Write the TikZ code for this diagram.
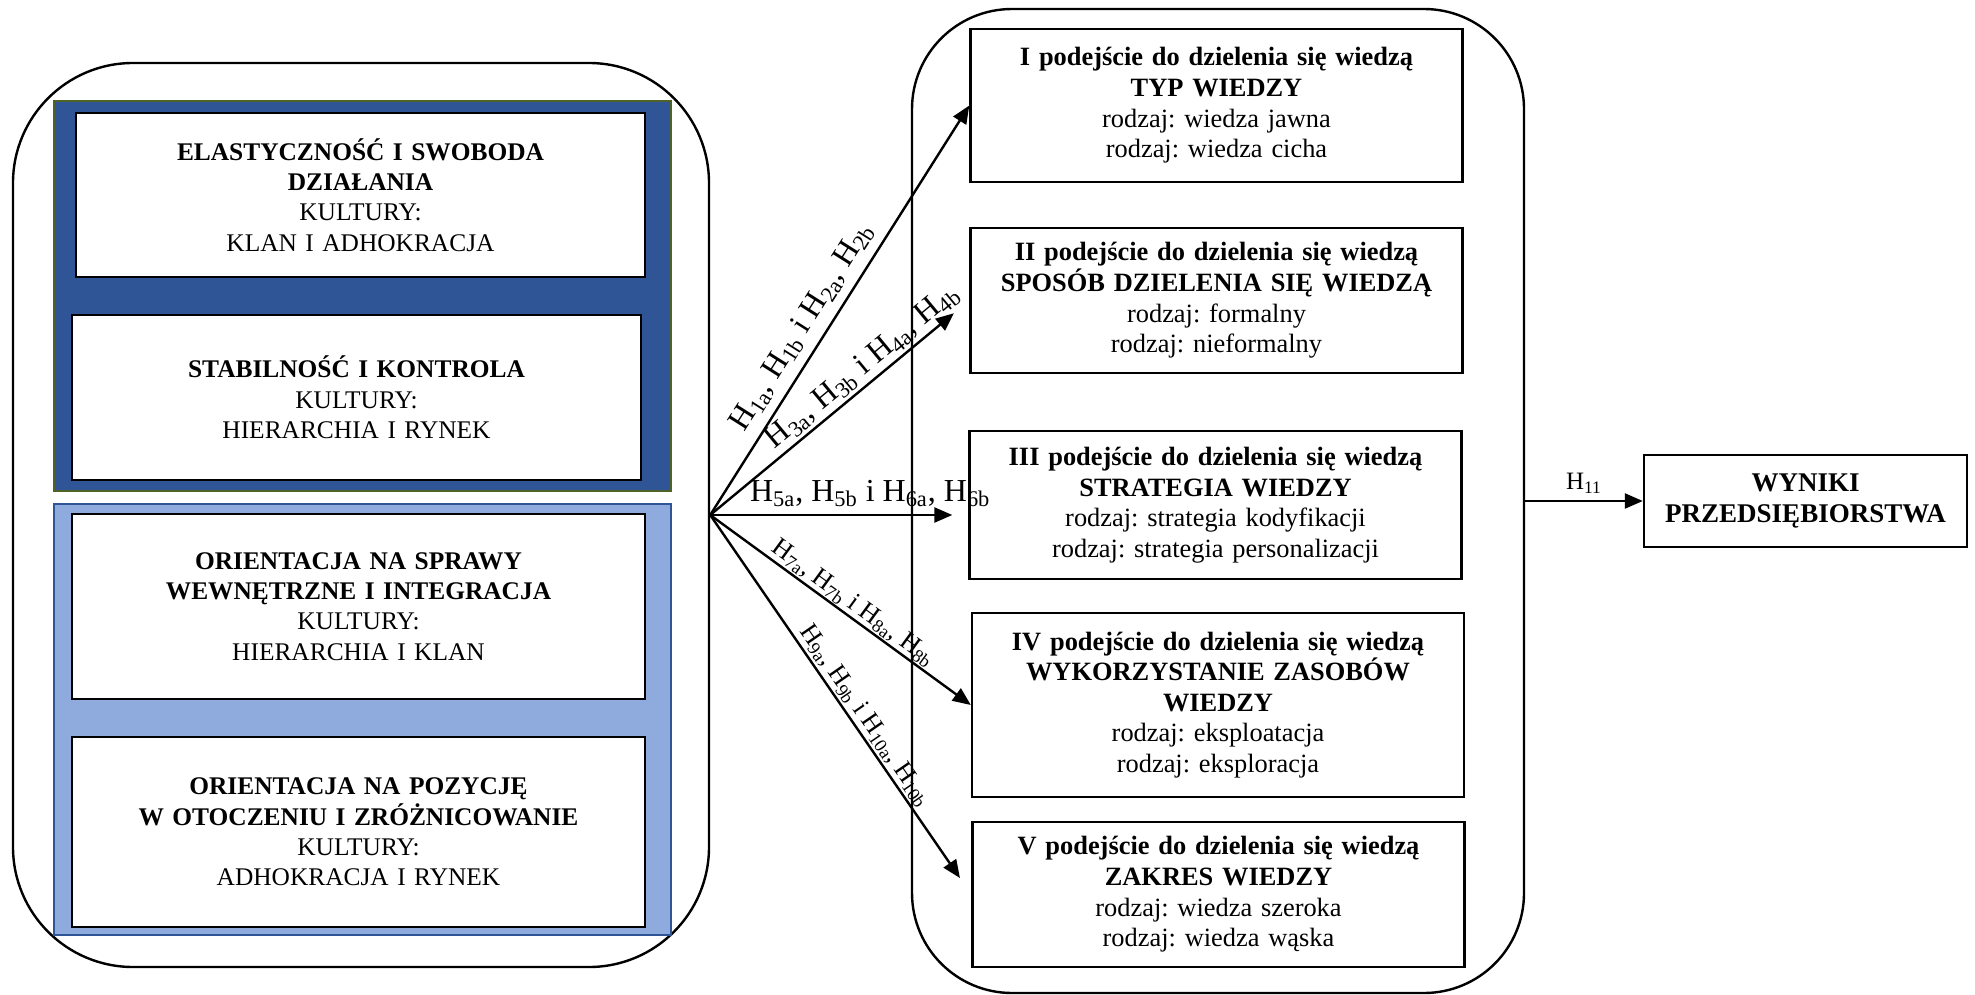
\documentclass[tikz,border=0pt]{standalone}
\usepackage{fontspec}
\setmainfont{Liberation Serif}
\usepackage{xcolor}
\usepackage{tikz}
\usetikzlibrary{arrows.meta}
\frenchspacing

\definecolor{darkband}{HTML}{2F5597}
\definecolor{lightband}{HTML}{8FAADC}
\definecolor{darkedge}{HTML}{4F6228}
\definecolor{lightedge}{HTML}{2F5597}

\begin{document}
\begin{tikzpicture}[
				x=0.5pt, y=-0.5pt,
				group/.style={rectangle, draw, line width=1.2pt, inner sep=0pt},
				band/.style={rectangle, inner sep=0pt, line width=0.8pt},
				culture/.style={rectangle, draw, fill=white, line width=1.4pt, inner sep=0pt,
					text width=270pt, align=center, font=\fontsize{12.7}{15.2}\selectfont},
				box/.style={rectangle, draw, line width=1.2pt, inner sep=0pt, minimum width=246pt,
					text width=236pt, align=center, font=\fontsize{13.2}{15.3}\selectfont},
				arrow/.style={-{Triangle[length=9pt,width=7.5pt]}, line width=1.2pt},
				hbig/.style={sloped, font=\fontsize{16}{18}\selectfont},
				hsmall/.style={sloped, font=\fontsize{13}{15}\selectfont}
				]
				\useasboundingbox (0,0) rectangle (1975,995);
				% kultury organizacyjne
				\node[group, rounded corners=60pt, minimum width=348pt, minimum height=452pt] (cultures) at (361,515) {};
				\node[band, fill=darkband, draw=darkedge, minimum width=308.5pt, minimum height=195pt] (flexband) at (362.5,296) {};
				\node[band, fill=lightband, draw=lightedge, minimum width=308.5pt, minimum height=215.5pt] (orientband) at (362.5,719.5) {};
				\node[culture, minimum width=284.5pt, minimum height=82pt] (flex) at (360.5,195)
				{\textbf{ELASTYCZNOŚĆ I SWOBODA}\\
					\textbf{DZIAŁANIA}\\
					KULTURY:\\
					KLAN I ADHOKRACJA};
				\node[culture, minimum width=284.5pt, minimum height=82.5pt] (stab) at (356.5,397.5)
				{\textbf{STABILNOŚĆ I KONTROLA}\\
					KULTURY:\\
					HIERARCHIA I RYNEK};
				\node[culture, minimum width=286.5pt, minimum height=92.5pt] (internal) at (358.5,606.5)
				{\textbf{ORIENTACJA NA SPRAWY}\\
					\textbf{WEWNĘTRZNE I INTEGRACJA}\\
					KULTURY:\\
					HIERARCHIA I KLAN};
				\node[culture, minimum width=286.5pt, minimum height=95pt] (external) at (358.5,832)
				{\textbf{ORIENTACJA NA POZYCJĘ}\\
					\textbf{W OTOCZENIU I ZRÓŻNICOWANIE}\\
					KULTURY:\\
					ADHOKRACJA I RYNEK};
				% podejscia do dzielenia sie wiedza
				\node[group, rounded corners=50pt, minimum width=306pt, minimum height=492pt] (knowledge) at (1218,501) {};
				\node[box, minimum height=76.5pt] (typ) at (1216.5,105.5)
				{\textbf{I podejście do dzielenia się wiedzą}\\
					\textbf{TYP WIEDZY}\\
					rodzaj: wiedza jawna\\
					rodzaj: wiedza cicha};
				\node[box, minimum height=72.5pt] (sposob) at (1216.5,300.5)
				{\textbf{II podejście do dzielenia się wiedzą}\\
					\textbf{SPOSÓB DZIELENIA SIĘ WIEDZĄ}\\
					rodzaj: formalny\\
					rodzaj: nieformalny};
				\node[box, minimum height=74pt] (strategia) at (1215.5,505)
				{\textbf{III podejście do dzielenia się wiedzą}\\
					\textbf{STRATEGIA WIEDZY}\\
					rodzaj: strategia kodyfikacji\\
					rodzaj: strategia personalizacji};
				\node[box, minimum height=92pt] (zasoby) at (1218,705)
				{\textbf{IV podejście do dzielenia się wiedzą}\\
					\textbf{WYKORZYSTANIE ZASOBÓW}\\
					\textbf{WIEDZY}\\
					rodzaj: eksploatacja\\
					rodzaj: eksploracja};
				\node[box, minimum height=72.5pt] (zakres) at (1218.5,894.5)
				{\textbf{V podejście do dzielenia się wiedzą}\\
					\textbf{ZAKRES WIEDZY}\\
					rodzaj: wiedza szeroka\\
					rodzaj: wiedza wąska};
				\node[box, minimum width=161.5pt, minimum height=46pt, text width=150pt,
				font=\fontsize{13.5}{15.5}\selectfont\bfseries] (wyniki) at (1805.5,501)
				{WYNIKI\\PRZEDSIĘBIORSTWA};
				% hipotezy
				\draw[arrow] (cultures.east) -- node[hbig, above=1pt, pos=0.43]
				{H\textsubscript{1a}, H\textsubscript{1b} i H\textsubscript{2a}, H\textsubscript{2b}} (typ.west);
				\draw[arrow, shorten >=10pt] (cultures.east) -- node[hbig, above=-2pt, pos=0.63]
				{H\textsubscript{3a}, H\textsubscript{3b} i H\textsubscript{4a}, H\textsubscript{4b}} (sposob.west);
				\draw[arrow, shorten >=8pt] (cultures.east) -- node[hbig, above, pos=0.62]
				{H\textsubscript{5a}, H\textsubscript{5b} i H\textsubscript{6a}, H\textsubscript{6b}} (strategia.west |- cultures.east);
				\draw[arrow] (cultures.east) -- node[hsmall, above=-3pt, pos=0.52]
				{H\textsubscript{7a}, H\textsubscript{7b} i H\textsubscript{8a}, H\textsubscript{8b}} (zasoby.west);
				\draw[arrow, shorten >=10pt] (cultures.east) -- node[hsmall, above=-2.5pt, pos=0.55]
				{H\textsubscript{9a}, H\textsubscript{9b} i H\textsubscript{10a}, H\textsubscript{10b}} (zakres.west);
				\draw[arrow] (knowledge.east) -- node[above, font=\fontsize{12.5}{14}\selectfont]
				{H\textsubscript{11}} (wyniki.west);
			\end{tikzpicture}
\end{document}
